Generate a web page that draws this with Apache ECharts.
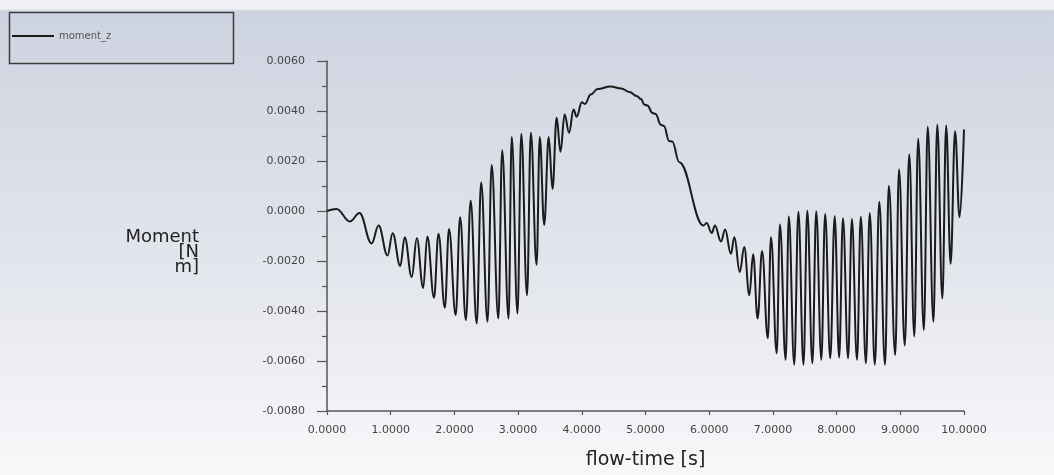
<!DOCTYPE html>
<html>
<head>
<meta charset="utf-8">
<script src="https://cdn.jsdelivr.net/npm/echarts@6/dist/echarts.min.js"></script>
<style>
  html, body { margin: 0; padding: 0; }
  #main {
    width: 1054px;
    height: 475px;
    background: linear-gradient(to bottom, #eef0f3 0px, #eef0f3 9px, #cdd3e0 11px, #e2e5ec 55%, #f8f8fa 100%);
  }
</style>
</head>
<body>
<div id="main"></div>
<script>
// moment_z (turning points of the signal)
const flowTime = [
  0.00, 0.15, 0.36, 0.51, 0.70, 0.81, 0.95, 1.03, 1.15, 1.22,
  1.33, 1.41, 1.51, 1.575, 1.68, 1.75, 1.85, 1.915, 2.02, 2.09,
  2.18, 2.255, 2.35, 2.42, 2.52, 2.585, 2.69, 2.75, 2.85, 2.90,
  2.99, 3.05, 3.14, 3.20, 3.29, 3.34, 3.41, 3.48, 3.54, 3.605,
  3.665, 3.73, 3.80, 3.87, 3.92, 4.00, 4.05, 4.14, 4.25, 4.45,
  4.62, 4.75, 4.86, 4.93, 4.98, 5.03, 5.11, 5.16, 5.24, 5.29,
  5.37, 5.42, 5.53, 5.91, 5.96, 6.04, 6.09, 6.185, 6.25, 6.34,
  6.395, 6.48, 6.55, 6.63, 6.69, 6.76, 6.83, 6.92, 6.97, 7.06,
  7.11, 7.20, 7.25, 7.335, 7.40, 7.48, 7.54, 7.62, 7.68, 7.76,
  7.82, 7.90, 7.97, 8.04, 8.10, 8.18, 8.24, 8.32, 8.38, 8.46,
  8.52, 8.60, 8.67, 8.76, 8.82, 8.92, 8.98, 9.07, 9.14, 9.22,
  9.28, 9.37, 9.43, 9.52, 9.58, 9.66, 9.72, 9.79, 9.86, 9.93,
  10.00
];
const momentZ = [
  0.00000, 0.00008, -0.00042, -0.00008, -0.00130, -0.00058, -0.00178, -0.00089, -0.00220, -0.00105,
  -0.00264, -0.00109, -0.00308, -0.00102, -0.00347, -0.00091, -0.00387, -0.00072, -0.00416, -0.00025,
  -0.00436, 0.00041, -0.00450, 0.00114, -0.00443, 0.00184, -0.00430, 0.00243, -0.00430, 0.00296,
  -0.00410, 0.00309, -0.00337, 0.00313, -0.00215, 0.00296, -0.00056, 0.00296, 0.00088, 0.00373,
  0.00237, 0.00386, 0.00313, 0.00406, 0.00377, 0.00435, 0.00428, 0.00466, 0.00488, 0.00498,
  0.00490, 0.00476, 0.00460, 0.00448, 0.00426, 0.00422, 0.00392, 0.00388, 0.00345, 0.00340,
  0.00280, 0.00278, 0.00195, -0.00058, -0.00048, -0.00088, -0.00058, -0.00122, -0.00074, -0.00171,
  -0.00105, -0.00244, -0.00144, -0.00337, -0.00173, -0.00430, -0.00160, -0.00509, -0.00105, -0.00569,
  -0.00054, -0.00595, -0.00022, -0.00615, -0.00003, -0.00615, 0.00001, -0.00609, -0.00001, -0.00595,
  -0.00012, -0.00589, -0.00021, -0.00586, -0.00029, -0.00589, -0.00032, -0.00595, -0.00023, -0.00609,
  -0.00008, -0.00615, 0.00037, -0.00615, 0.00101, -0.00576, 0.00167, -0.00538, 0.00227, -0.00502,
  0.00289, -0.00476, 0.00337, -0.00443, 0.00346, -0.00350, 0.00342, -0.00211, 0.00319, -0.00025,
  0.00326
];
const xTicks = [0, 10, 1];          // min, max, step
const yTicks = [-0.008, 0.006, 0.002];

const seriesData = flowTime.map((t, i) => [t, momentZ[i]]);

const chart = echarts.init(document.getElementById("main"));
const labelFont = { fontFamily: "DejaVu Sans", fontSize: 11, color: "#444" };

const option = {
  animation: false,
  backgroundColor: "transparent",
  grid: { left: 327, right: 90, top: 61, bottom: 62 },
  legend: {
    left: 12,
    top: 31,
    padding: 0,
    icon: "rect",
    itemWidth: 42,
    itemHeight: 2,
    itemGap: 5,
    textStyle: { fontFamily: "DejaVu Sans", fontSize: 10, color: "#555" },
    data: ["moment_z"],
  },
  graphic: [
    {
      type: "rect",
      shape: { x: 9.5, y: 12.5, width: 224, height: 51 },
      style: { fill: "none", stroke: "#3c3c3c", lineWidth: 1.5 },
      silent: true,
    },
    {
      type: "text",
      x: 199,
      y: 230,
      style: {
        text: "Moment\n[N\nm]",
        align: "right",
        verticalAlign: "top",
        lineHeight: 15,
        font: "18px 'DejaVu Sans'",
        fill: "#222",
      },
    },
  ],
  xAxis: {
    type: "value",
    min: xTicks[0],
    max: xTicks[1],
    interval: xTicks[2],
    name: "flow-time [s]",
    nameLocation: "middle",
    nameGap: 40,
    nameTextStyle: { fontFamily: "DejaVu Sans", fontSize: 19, color: "#222" },
    axisLine: { onZero: false, lineStyle: { color: "#555", width: 1.5 } },
    axisTick: { length: 4, lineStyle: { color: "#555", width: 1.2 } },
    axisLabel: { ...labelFont, margin: 14, formatter: (v) => v.toFixed(4) },
    splitLine: { show: false },
  },
  yAxis: {
    type: "value",
    min: yTicks[0],
    max: yTicks[1],
    interval: yTicks[2],
    axisLine: { show: true, onZero: false, lineStyle: { color: "#555", width: 1.5 } },
    axisTick: { show: true, length: 10, lineStyle: { color: "#555", width: 1.2 } },
    minorTick: { show: true, splitNumber: 2, length: 5, lineStyle: { color: "#555", width: 1.2 } },
    axisLabel: { ...labelFont, margin: 22, formatter: (v) => v.toFixed(4) },
    splitLine: { show: false },
  },
  series: [
    {
      name: "moment_z",
      type: "line",
      data: seriesData,
      symbol: "none",
      smooth: 0.4,
      smoothMonotone: "x",
      lineStyle: { color: "#1b1b1b", width: 2 },
      itemStyle: { color: "#1b1b1b" },
    },
  ],
};

chart.setOption(option);
</script>
</body>
</html>
